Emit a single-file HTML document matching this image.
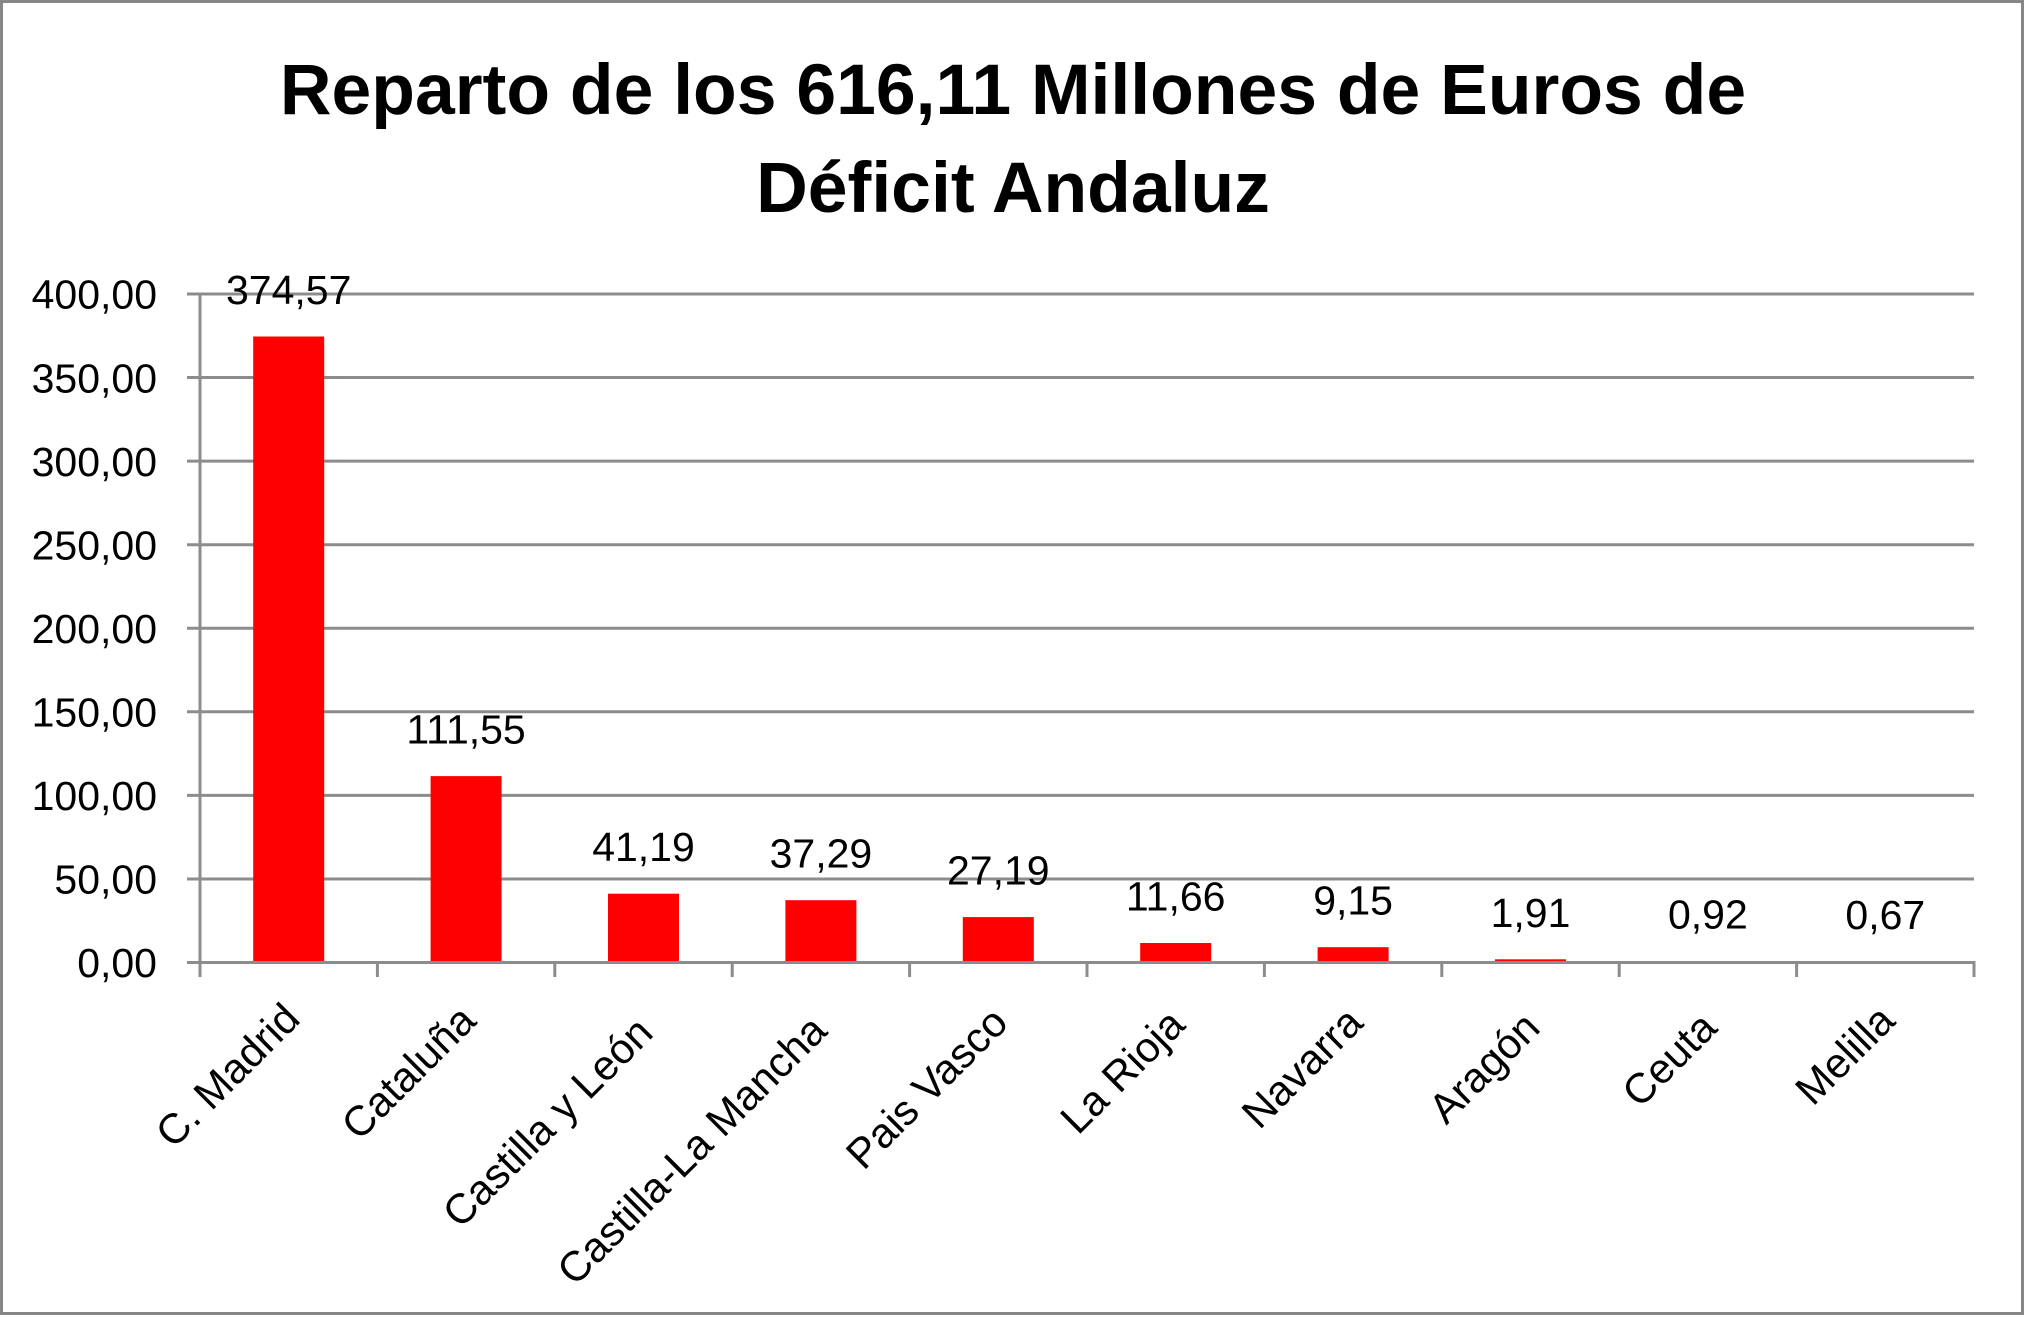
<!DOCTYPE html>
<html>
<head>
<meta charset="utf-8">
<style>
html,body{margin:0;padding:0;background:#fff;}
svg{display:block;}
text{font-family:"Liberation Sans",Arial,sans-serif;fill:#000;}
</style>
</head>
<body>
<svg width="2026" height="1317" viewBox="0 0 2026 1317" xmlns="http://www.w3.org/2000/svg">
<rect x="0" y="0" width="2026" height="1317" fill="#fff"/>
<rect x="1.5" y="1.5" width="2021" height="1312" fill="none" stroke="#868686" stroke-width="3"/>

<!-- title -->
<text x="1013" y="114" font-size="71.5" font-weight="bold" text-anchor="middle">Reparto de los 616,11 Millones de Euros de</text>
<text x="1013" y="212" font-size="71.5" font-weight="bold" text-anchor="middle">Déficit Andaluz</text>

<!-- gridlines -->
<g stroke="#8c8c8c" stroke-width="3">
<line x1="187" y1="294" x2="1974" y2="294"/>
<line x1="187" y1="377.56" x2="1974" y2="377.56"/>
<line x1="187" y1="461.13" x2="1974" y2="461.13"/>
<line x1="187" y1="544.69" x2="1974" y2="544.69"/>
<line x1="187" y1="628.25" x2="1974" y2="628.25"/>
<line x1="187" y1="711.81" x2="1974" y2="711.81"/>
<line x1="187" y1="795.38" x2="1974" y2="795.38"/>
<line x1="187" y1="878.94" x2="1974" y2="878.94"/>
</g>

<!-- bars -->
<g fill="#ff0000">
<rect x="253.2" y="336.5" width="71" height="626"/>
<rect x="430.6" y="776.1" width="71" height="186.4"/>
<rect x="608.0" y="893.7" width="71" height="68.8"/>
<rect x="785.4" y="900.2" width="71" height="62.3"/>
<rect x="962.8" y="917.1" width="71" height="45.4"/>
<rect x="1140.2" y="943.0" width="71" height="19.5"/>
<rect x="1317.6" y="947.2" width="71" height="15.3"/>
<rect x="1495.0" y="959.3" width="71" height="3.2"/>
<rect x="1672.4" y="961.0" width="71" height="1.5"/>
<rect x="1849.8" y="961.4" width="71" height="1.1"/>
</g>

<!-- axes -->
<g stroke="#8c8c8c" stroke-width="3">
<line x1="187" y1="962.5" x2="1975.5" y2="962.5"/>
<line x1="200" y1="292.5" x2="200" y2="977"/>
<line x1="377.4" y1="962.5" x2="377.4" y2="977"/>
<line x1="554.8" y1="962.5" x2="554.8" y2="977"/>
<line x1="732.2" y1="962.5" x2="732.2" y2="977"/>
<line x1="909.6" y1="962.5" x2="909.6" y2="977"/>
<line x1="1087" y1="962.5" x2="1087" y2="977"/>
<line x1="1264.4" y1="962.5" x2="1264.4" y2="977"/>
<line x1="1441.8" y1="962.5" x2="1441.8" y2="977"/>
<line x1="1619.2" y1="962.5" x2="1619.2" y2="977"/>
<line x1="1796.6" y1="962.5" x2="1796.6" y2="977"/>
<line x1="1974" y1="962.5" x2="1974" y2="977"/>
</g>

<!-- y labels -->
<g font-size="41" text-anchor="end">
<text x="157" y="308.7">400,00</text>
<text x="157" y="392.3">350,00</text>
<text x="157" y="475.8">300,00</text>
<text x="157" y="559.4">250,00</text>
<text x="157" y="643">200,00</text>
<text x="157" y="726.5">150,00</text>
<text x="157" y="810.1">100,00</text>
<text x="157" y="893.6">50,00</text>
<text x="157" y="977.2">0,00</text>
</g>

<!-- data labels -->
<g font-size="41" text-anchor="middle">
<text x="288.7" y="304">374,57</text>
<text x="466.1" y="743.6">111,55</text>
<text x="643.5" y="861.2">41,19</text>
<text x="820.9" y="867.7">37,29</text>
<text x="998.3" y="884.6">27,19</text>
<text x="1175.7" y="910.5">11,66</text>
<text x="1353.1" y="914.7">9,15</text>
<text x="1530.5" y="926.8">1,91</text>
<text x="1707.9" y="928.5">0,92</text>
<text x="1885.3" y="928.9">0,67</text>
</g>

<!-- category labels -->
<g font-size="42" text-anchor="end">
<text x="302" y="1021" transform="rotate(-45 302 1021)">C. Madrid</text>
<text x="478" y="1023" transform="rotate(-45 478 1023)">Cataluña</text>
<text x="655" y="1035" transform="rotate(-45 655 1035)">Castilla y León</text>
<text x="829" y="1033" transform="rotate(-45 829 1033)">Castilla-La Mancha</text>
<text x="1010" y="1025" transform="rotate(-45 1010 1025)">Pais Vasco</text>
<text x="1187" y="1027" transform="rotate(-45 1187 1027)">La Rioja</text>
<text x="1365" y="1025" transform="rotate(-45 1365 1025)">Navarra</text>
<text x="1542" y="1030" transform="rotate(-45 1542 1030)">Aragón</text>
<text x="1719" y="1030" transform="rotate(-45 1719 1030)">Ceuta</text>
<text x="1897" y="1023" transform="rotate(-45 1897 1023)">Melilla</text>
</g>
</svg>
</body>
</html>
